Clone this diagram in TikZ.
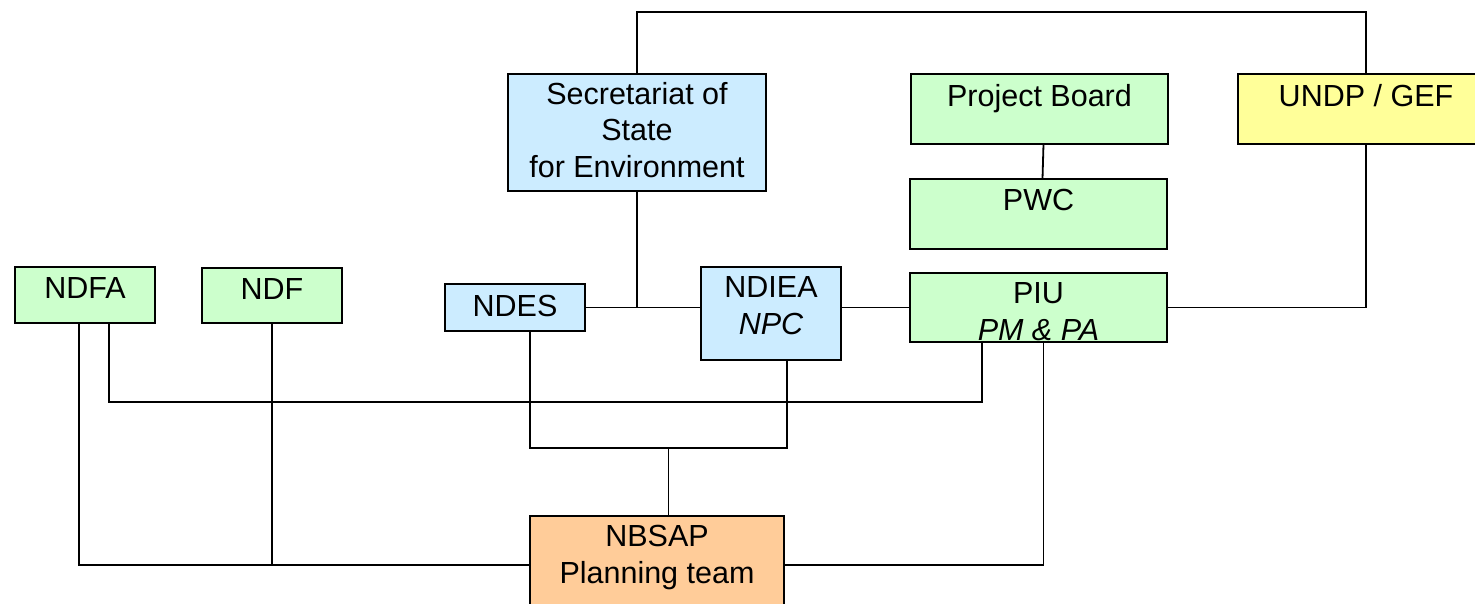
\documentclass[tikz,border=0pt]{standalone}
\usepackage{fontspec}
\setmainfont{Liberation Sans}
\usetikzlibrary{calc}
\definecolor{boxblue}{HTML}{CCECFF}
\definecolor{boxgreen}{HTML}{CCFFCC}
\definecolor{boxyellow}{HTML}{FFFF99}
\definecolor{boxorange}{HTML}{FFCC99}
\tikzset{
  unit/.style={draw=black, line width=2pt, rectangle, inner sep=0pt, outer sep=0pt},
  lbl/.style={anchor=base, align=center, inner sep=0pt, font=\fontsize{30.5}{36.5}\selectfont},
  link/.style={draw=black, line width=1.8pt}
}
\begin{document}
\begin{tikzpicture}[x=1pt, y=-1pt]
\useasboundingbox (0,0) rectangle (1475,603);
\clip (0,0) rectangle (1475,603);

% organisational units
\node[unit, fill=boxblue,   minimum width=258pt, minimum height=117pt] (sec)   at (637,132.5)  {};
\node[unit, fill=boxgreen,  minimum width=257pt, minimum height=70pt]  (pb)    at (1039.5,109) {};
\node[unit, fill=boxyellow, minimum width=256pt, minimum height=70pt]  (undp)  at (1366,109)   {};
\node[unit, fill=boxgreen,  minimum width=257pt, minimum height=70pt]  (pwc)   at (1038.5,214) {};
\node[unit, fill=boxgreen,  minimum width=257pt, minimum height=69pt]  (piu)   at (1038.5,307.5) {};
\node[unit, fill=boxgreen,  minimum width=140pt, minimum height=56pt]  (ndfa)  at (85,295)    {};
\node[unit, fill=boxgreen,  minimum width=140pt, minimum height=55pt]  (ndf)   at (272,295.5) {};
\node[unit, fill=boxblue,   minimum width=140pt, minimum height=47pt]  (ndes)  at (515,307.5) {};
\node[unit, fill=boxblue,   minimum width=140pt, minimum height=93pt]  (ndiea) at (771,313.5) {};
\node[unit, fill=boxorange, minimum width=254pt, minimum height=98pt]  (nbsap) at (657,565)   {};

% labels; the base anchor of a multi-line label is its last baseline
\node[lbl] (sec-t)   at ([yshift=-103pt]sec.north)  {Secretariat of\\State\\for Environment};
\node[lbl] (pb-t)    at ([yshift=-32pt]pb.north)    {Project Board};
\node[lbl] (undp-t)  at ([yshift=-32pt]undp.north)  {UNDP / GEF};
\node[lbl] (pwc-t)   at ([yshift=-31pt]pwc.north)   {PWC};
\node[lbl] (piu-t)   at ([yshift=-67pt]piu.north)   {PIU\\\itshape PM \& PA};
\node[lbl] (ndfa-t)  at ([yshift=-31pt]ndfa.north)  {NDFA};
\node[lbl] (ndf-t)   at ([yshift=-31pt]ndf.north)   {NDF};
\node[lbl] (ndes-t)  at ([yshift=-32pt]ndes.north)  {NDES};
\node[lbl] (ndiea-t) at ([yshift=-67pt]ndiea.north) {NDIEA\\\itshape NPC};
\node[lbl] (nbsap-t) at ([yshift=-67pt]nbsap.north) {NBSAP\\Planning team};

% connectors
\draw[link] (sec.north) -- ++(0,-62) -| (undp.north);
\draw[link] (sec.south) -- (sec.south |- ndes.east);
\draw[link] (ndes.east) -- (ndes.east -| ndiea.west);
\draw[link] (piu.west) -- (piu.west -| ndiea.east);
\draw[link] ([xshift=4pt]pb.south) -- ([xshift=4pt]pwc.north);
\draw[link] (piu.east) -| (undp.south);
\draw[link] ([xshift=24pt]ndfa.south) -- ++(0,79) -| ([xshift=-56.5pt]piu.south);
\draw[link] ([xshift=-6pt]ndfa.south) |- (nbsap.west);
\draw[link] (ndf.south) -- (ndf.south |- nbsap.west);
\draw[link] ([xshift=5pt]piu.south) |- (nbsap.east);
\draw[link] ([xshift=15pt]ndes.south) -- ++(0,117) coordinate (tie) -| ([xshift=16pt]ndiea.south);
\draw[link] ([xshift=11.5pt]nbsap.north) -- ([xshift=11.5pt]nbsap.north |- tie);
\end{tikzpicture}
\end{document}
